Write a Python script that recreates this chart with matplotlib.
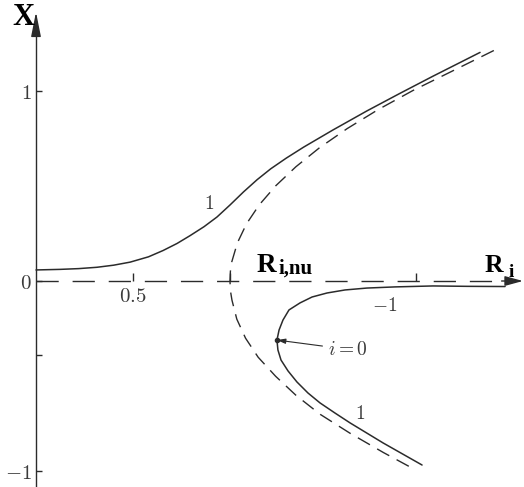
import matplotlib.pyplot as plt
from matplotlib.ticker import FixedLocator, FixedFormatter

plt.rcParams['mathtext.fontset'] = 'cm'

# --- branches of the bifurcation diagram (R_i horizontal, X vertical) ---
# solid upper branch, imperfection i = 1
upper_r = [0.000, 0.124, 0.220, 0.314, 0.400, 0.485, 0.580, 0.655, 0.727,
           0.794, 0.866, 0.933, 1.000, 1.070, 1.140, 1.210, 1.290, 1.380,
           1.531, 1.706, 1.876, 2.046, 2.289]
upper_x = [0.058, 0.061, 0.065, 0.072, 0.083, 0.099, 0.127, 0.160, 0.197,
           0.238, 0.285, 0.336, 0.399, 0.468, 0.532, 0.589, 0.645, 0.703,
           0.793, 0.893, 0.985, 1.075, 1.200]

# solid lower branch with the turning point, i = 1 / -1
lower_r = [2.418, 2.222, 2.046, 1.851, 1.706, 1.593, 1.500, 1.423, 1.361,
           1.304, 1.273, 1.253, 1.242, 1.247, 1.263, 1.299, 1.345, 1.402,
           1.464, 1.541, 1.619, 1.789, 1.990]
lower_x = [-0.029, -0.028, -0.026, -0.031, -0.037, -0.047, -0.063, -0.084, -0.115,
           -0.152, -0.205, -0.257, -0.310, -0.362, -0.415, -0.472, -0.530, -0.588,
           -0.640, -0.693, -0.745, -0.850, -0.966]
FOLD = 12   # turning point of the lower branch (i = 0 marker)

# dashed perfect-bifurcation parabola
nose_r = [2.360, 2.142, 1.943, 1.764, 1.604, 1.462, 1.340, 1.236, 1.151, 1.085,
          1.038, 1.009, 1.002, 1.000, 1.002, 1.010, 1.035, 1.080, 1.145, 1.235,
          1.340, 1.465, 1.620, 1.790, 1.935]
nose_x = [1.21, 1.10, 1.00, 0.90, 0.80, 0.70, 0.60, 0.50, 0.40, 0.30,
          0.20, 0.10, 0.05, 0.00, -0.05, -0.10, -0.20, -0.30, -0.40, -0.50,
          -0.60, -0.70, -0.80, -0.90, -0.98]

# dashed trivial branch X = 0
trivial_r = [0.0, 2.42]
trivial_x = [0.0, 0.0]

xtick_pos = [0.5, 1.0, 1.96]
xtick_lab = ['$0.5$', '', '']
ytick_pos = [1.0, 0.0, -0.39, -1.0]
ytick_lab = ['$1$', '$0$', '', '$-1$']

INK = '#2b2b2b'
BOLD = dict(family='Liberation Serif', weight='bold', color='black')

fig = plt.figure(figsize=(5.24, 4.87), dpi=100)
ax = fig.add_axes([0, 0, 1, 1])
ax.set_xlim(-0.1856, 2.5155)
ax.set_ylim(-1.0814, 1.4751)

for side in ['top', 'right', 'bottom']:
    ax.spines[side].set_visible(False)
ax.spines['bottom'].set_position(('data', 0))
ax.spines['left'].set_position(('data', 0))
ax.spines['left'].set_bounds(-1.0814, 1.34)
ax.spines['left'].set_color(INK)
ax.spines['left'].set_linewidth(1.0)

ax.xaxis.set_major_locator(FixedLocator(xtick_pos))
ax.xaxis.set_major_formatter(FixedFormatter(xtick_lab))
ax.yaxis.set_major_locator(FixedLocator(ytick_pos))
ax.yaxis.set_major_formatter(FixedFormatter(ytick_lab))
ax.tick_params(axis='x', direction='in', length=6, width=1.0, color=INK,
               labelsize=15, labelcolor='#3a3a3a', pad=3.5)
ax.tick_params(axis='y', direction='in', length=4.5, width=1.0, color=INK,
               labelsize=15, labelcolor='#3a3a3a', pad=3)

# curves
ax.plot(trivial_r, trivial_x, color=INK, lw=1.0, dashes=(16, 10))
ax.plot(nose_r, nose_x, color=INK, lw=1.0, dashes=(10, 6))
ax.plot(upper_r, upper_x, color=INK, lw=1.1, solid_capstyle='round',
        solid_joinstyle='round')
ax.plot(lower_r, lower_x, color=INK, lw=1.1, solid_capstyle='round',
        solid_joinstyle='round')
ax.plot(lower_r[FOLD], lower_x[FOLD], 'o', color=INK, ms=3)

# axis arrowheads
ax.annotate('', xy=(0, 1.412), xytext=(0, 1.30),
            arrowprops=dict(arrowstyle='-|>,head_length=1.5,head_width=0.3',
                            color=INK, lw=1.0, mutation_scale=10,
                            shrinkA=0, shrinkB=0))
ax.annotate('', xy=(2.510, 0), xytext=(2.40, 0),
            arrowprops=dict(arrowstyle='-|>,head_length=1.1,head_width=0.3',
                            color=INK, lw=1.0, mutation_scale=10,
                            shrinkA=0, shrinkB=0), zorder=5)

# axis titles
ax.text(-0.124, 1.344, 'X', fontsize=22, ha='left', va='baseline', **BOLD)
ax.text(1.139, 0.047, 'R', fontsize=19.5, ha='left', va='baseline', **BOLD)
ax.text(1.250, 0.040, 'i,nu', fontsize=15, ha='left', va='baseline', **BOLD)
ax.text(2.314, 0.047, 'R', fontsize=18.5, ha='left', va='baseline', **BOLD)
ax.text(2.438, 0.021, 'i', fontsize=14, ha='left', va='baseline', zorder=1, **BOLD)

# curve labels
ax.text(0.892, 0.409, '$1$', fontsize=14, ha='center', va='center', color='#3a3a3a')
ax.text(1.670, -0.693, '$1$', fontsize=14, ha='center', va='center', color='#3a3a3a')
ax.text(1.799, -0.126, '$-1$', fontsize=14, ha='center', va='center', color='#3a3a3a')
ax.annotate('$i=0$', xy=(lower_r[FOLD], lower_x[FOLD]), xytext=(1.505, -0.359),
            fontsize=14, ha='left', va='center', color='#3a3a3a',
            arrowprops=dict(arrowstyle='-|>,head_length=0.5,head_width=0.15',
                            color=INK, lw=0.8, mutation_scale=10,
                            shrinkA=2, shrinkB=0))

fig.savefig('out.png', dpi=100)
